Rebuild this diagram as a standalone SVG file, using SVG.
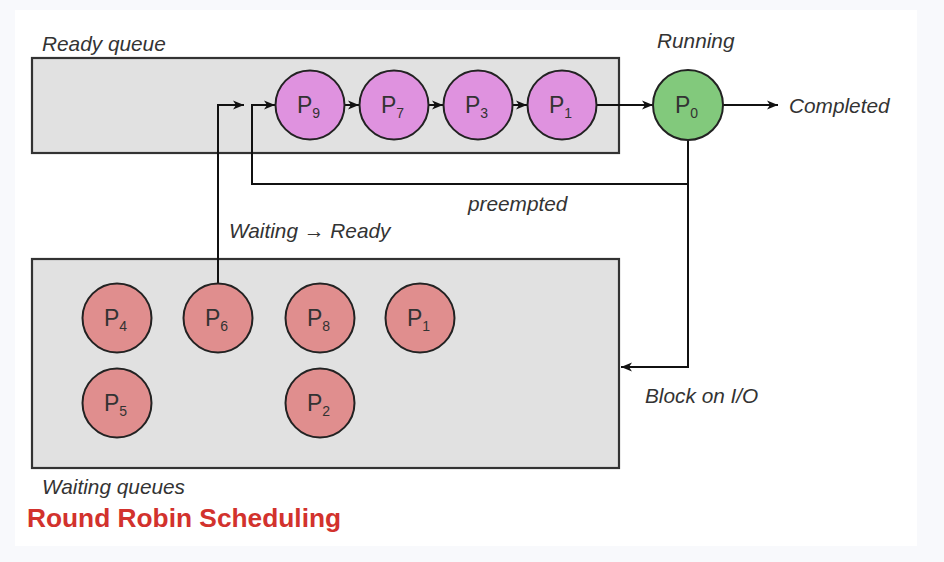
<svg xmlns="http://www.w3.org/2000/svg" width="944" height="562" viewBox="0 0 944 562">
<style>
.lbl{font-family:"Liberation Sans",Arial,sans-serif;font-style:italic;font-size:20.8px;fill:#333}
.box{fill:#e1e1e1;stroke:#333;stroke-width:2.2}
.n{stroke:#222;stroke-width:2}
.ready{fill:#df92df}
.run{fill:#82c97c}
.wait{fill:#e08e8e}
.p{font-family:"Liberation Sans",Arial,sans-serif;font-size:23px;fill:#333}
.sub{font-size:14px}
.c{fill:none;stroke:#111;stroke-width:2}
.title{font-family:"Liberation Sans",Arial,sans-serif;font-weight:bold;font-size:26.3px;fill:#d2322d}
</style>
<defs>
<marker id="ah" markerWidth="12" markerHeight="10" refX="11" refY="5" orient="auto" markerUnits="userSpaceOnUse">
<path d="M0,0.5 L11,5 L0,9.5 L3,5 Z" fill="#111"/>
</marker>
</defs>
<rect x="0" y="0" width="944" height="562" fill="#f8f9fc"/>
<rect x="15" y="10" width="902" height="536" fill="#ffffff"/>
<g id="ready-queue">
<rect class="box" x="32" y="58" width="587" height="95"/>
<text class="lbl" x="42" y="51">Ready queue</text>
</g>
<g id="waiting-queues">
<rect class="box" x="32" y="259" width="587" height="209"/>
<text class="lbl" x="42" y="494">Waiting queues</text>
</g>
<g id="connectors">
<path class="c" d="M345,105 L359,105" marker-end="url(#ah)"/>
<path class="c" d="M428,105 L443,105" marker-end="url(#ah)"/>
<path class="c" d="M513,105 L527,105" marker-end="url(#ah)"/>
<path class="c" d="M597,105 L653,105" marker-end="url(#ah)"/>
<path class="c" d="M723,105 L778,105" marker-end="url(#ah)"/>
<path class="c" d="M688,140 L688,184 L252,184 L252,105 L275,105" marker-end="url(#ah)"/>
<path class="c" d="M218,283 L218,105 L244,105" marker-end="url(#ah)"/>
<path class="c" d="M688,184 L688,367 L621,367" marker-end="url(#ah)"/>
</g>
<g id="P9"><circle class="n ready" cx="310" cy="105" r="34.5"/><text class="p" x="297" y="113">P<tspan class="sub" dy="5">9</tspan></text></g>
<g id="P7"><circle class="n ready" cx="394" cy="105" r="34.5"/><text class="p" x="381" y="113">P<tspan class="sub" dy="5">7</tspan></text></g>
<g id="P3"><circle class="n ready" cx="478" cy="105" r="34.5"/><text class="p" x="465" y="113">P<tspan class="sub" dy="5">3</tspan></text></g>
<g id="P1-ready"><circle class="n ready" cx="562" cy="105" r="34.5"/><text class="p" x="549" y="113">P<tspan class="sub" dy="5">1</tspan></text></g>
<g id="P0"><circle class="n run" cx="688" cy="105" r="35"/><text class="p" x="675" y="113">P<tspan class="sub" dy="5">0</tspan></text><text class="lbl" x="657" y="48">Running</text></g>
<g id="completed"><text class="lbl" x="789" y="113">Completed</text></g>
<g id="P4"><circle class="n wait" cx="117" cy="318" r="34.5"/><text class="p" x="104" y="326">P<tspan class="sub" dy="5">4</tspan></text></g>
<g id="P6"><circle class="n wait" cx="218" cy="318" r="34.5"/><text class="p" x="205" y="326">P<tspan class="sub" dy="5">6</tspan></text></g>
<g id="P8"><circle class="n wait" cx="320" cy="318" r="34.5"/><text class="p" x="307" y="326">P<tspan class="sub" dy="5">8</tspan></text></g>
<g id="P1-wait"><circle class="n wait" cx="420" cy="318" r="34.5"/><text class="p" x="407" y="326">P<tspan class="sub" dy="5">1</tspan></text></g>
<g id="P5"><circle class="n wait" cx="117" cy="403" r="34.5"/><text class="p" x="104" y="411">P<tspan class="sub" dy="5">5</tspan></text></g>
<g id="P2"><circle class="n wait" cx="320" cy="403" r="34.5"/><text class="p" x="307" y="411">P<tspan class="sub" dy="5">2</tspan></text></g>
<text class="lbl" x="468" y="211">preempted</text>
<text class="lbl" x="229" y="238">Waiting → Ready</text>
<text class="lbl" x="645" y="403">Block on I/O</text>
<text class="title" x="27" y="527">Round Robin Scheduling</text>
</svg>
